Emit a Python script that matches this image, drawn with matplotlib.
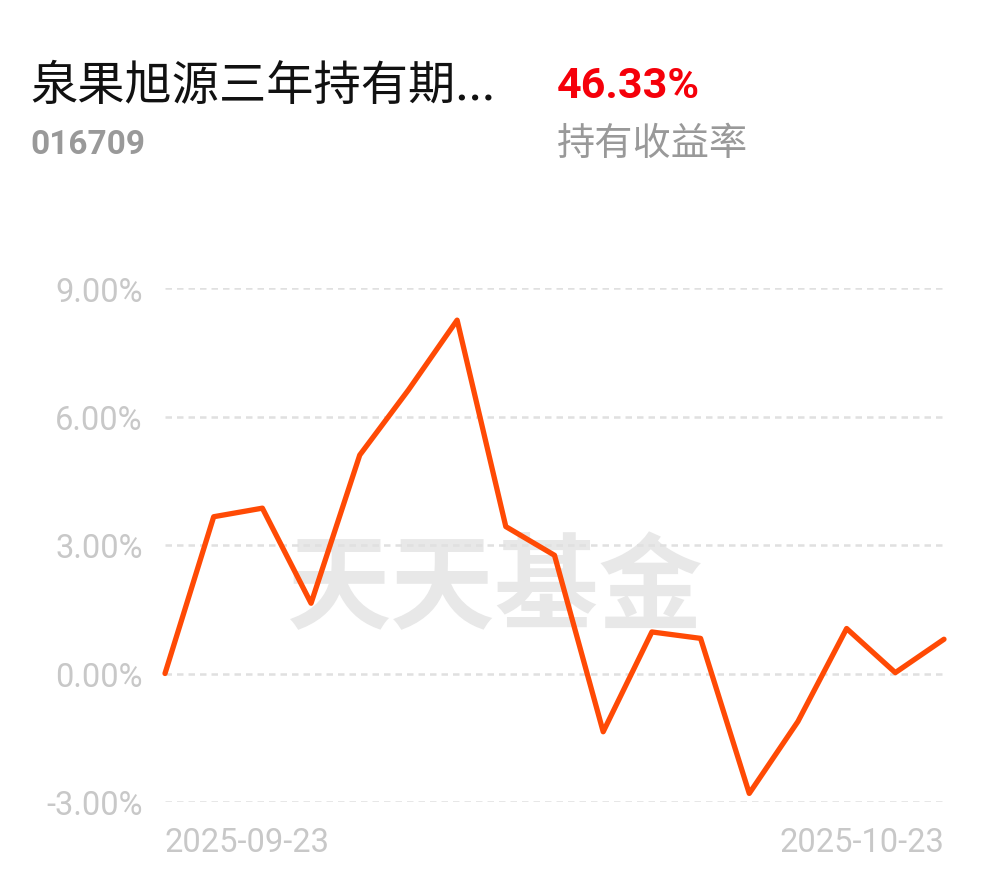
# Holding-return line chart for fund 016709 (天天基金 style)
import matplotlib
matplotlib.use('Agg')
import matplotlib.pyplot as plt

plt.rcParams['font.family'] = ['Noto Sans CJK SC', 'DejaVu Sans']

# Data
dates = ['2025-09-23', '2025-09-24', '2025-09-25', '2025-09-26', '2025-09-29',
         '2025-09-30', '2025-10-09', '2025-10-10', '2025-10-13', '2025-10-14',
         '2025-10-15', '2025-10-16', '2025-10-17', '2025-10-20', '2025-10-21',
         '2025-10-22', '2025-10-23']
returns = [0.00, 3.66, 3.86, 1.64, 5.10, 6.62, 8.25, 3.43, 2.76, -1.36,
           0.97, 0.82, -2.80, -1.12, 1.05, 0.02, 0.80]
y_ticks = [-3, 0, 3, 6, 9]
y_tick_labels = ['-3.00%', '0.00%', '3.00%', '6.00%', '9.00%']

fund_name = '泉果旭源三年持有期...'
fund_code = '016709'
hold_return = '46.33%'
hold_label = '持有收益率'

num_font = ['Roboto', 'DejaVu Sans']

fig = plt.figure(figsize=(9.9, 8.78), dpi=100)
ax = fig.add_axes([165 / 990, 1 - 803 / 878, (944 - 165) / 990, (803 - 289) / 878])

x = list(range(len(dates)))
ax.plot(x, returns, color='#FF4A05', lw=3.8, solid_joinstyle='round',
        solid_capstyle='round', zorder=3, clip_on=False)

ax.set_xlim(0, len(dates) - 1)
ax.set_ylim(-3, 9)

# dashed gridlines
for yt in y_ticks:
    ax.axhline(yt, color='#E0E0E0', lw=1.8, ls=(0, (2.6, 2.0)), zorder=1)

ax.set_yticks(y_ticks)
ax.set_yticklabels(y_tick_labels, family=num_font, fontsize=23.5, color='#C8C8C8')
ax.tick_params(axis='y', length=0, pad=16)

ax.set_xticks([0, len(dates) - 1])
ax.set_xticklabels([dates[0], dates[-1]], family=num_font, fontsize=23.5, color='#C8C8C8')
xl = ax.get_xticklabels()
xl[0].set_horizontalalignment('left')
xl[1].set_horizontalalignment('right')
ax.tick_params(axis='x', length=0, pad=17)

for s in ax.spines.values():
    s.set_visible(False)

# watermark
ax.text(0.424, 0.414, '天天基金', transform=ax.transAxes, fontsize=75,
        fontweight='bold', color='#E8E8E8', ha='center', va='center', zorder=0)

# header
fig.text(30 / 990, 1 - 87 / 878, fund_name, fontsize=34, color='#111111',
         ha='left', va='center')
fig.text(30 / 990, 1 - 145 / 878, fund_code, family=num_font, fontsize=24,
         fontweight='bold', color='#999999', ha='left', va='center')
fig.text(557 / 990, 1 - 87 / 878, hold_return, family=num_font, fontsize=31,
         fontweight='bold', color='#F5000A', ha='left', va='center')
fig.text(557 / 990, 1 - 145 / 878, hold_label, fontsize=27.5, color='#999999',
         ha='left', va='center')

plt.savefig('out.png', dpi=100)
